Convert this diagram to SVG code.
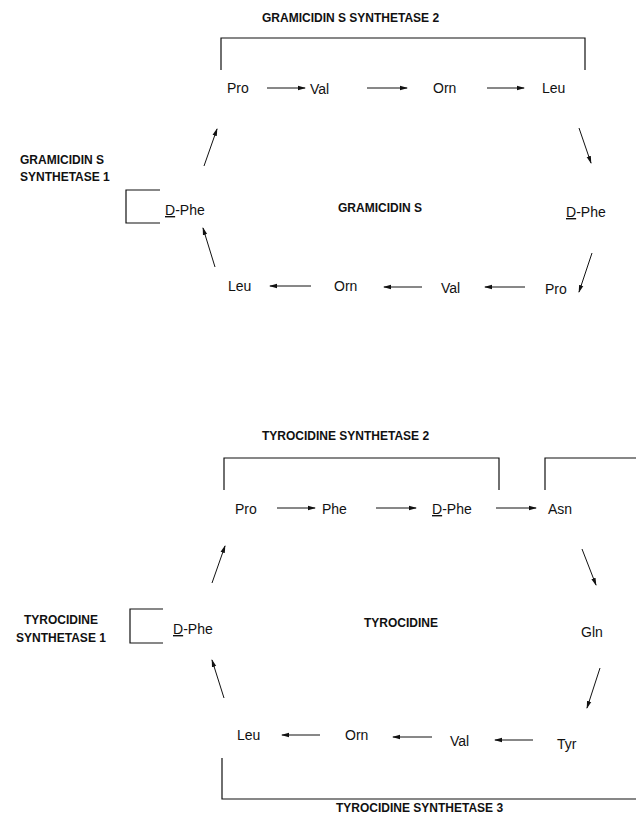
<svg xmlns="http://www.w3.org/2000/svg" width="636" height="816" viewBox="0 0 636 816">
<defs>
<marker id="ah" markerWidth="8" markerHeight="6" refX="7" refY="3" orient="auto" markerUnits="userSpaceOnUse">
<path d="M0,0.8 L8,3 L0,5.2 Z" fill="#111"/>
</marker>
</defs>
<style>
.t{font-family:"Liberation Sans",Arial,sans-serif;font-size:14px;fill:#111}
.b{font-family:"Liberation Sans",Arial,sans-serif;font-size:12px;font-weight:bold;fill:#111}
.c{stroke:#111;stroke-width:1;fill:none;marker-end:url(#ah)}
.br{stroke:#111;stroke-width:1.2;fill:none}
</style>
<rect width="636" height="816" fill="#fff"/>

<g id="gramicidin">
<text class="b" x="262" y="22">GRAMICIDIN S SYNTHETASE 2</text>
<path class="br" d="M221,70 V38 H585 V70"/>
<text class="b" x="20" y="164">GRAMICIDIN S</text>
<text class="b" x="20" y="181">SYNTHETASE 1</text>
<path class="br" d="M160,190 H126 V223 H160"/>
<text class="b" x="338" y="212">GRAMICIDIN S</text>
</g>
<g id="g-pro1"><text class="t" x="227" y="93">Pro</text></g>
<g id="g-val1"><text class="t" x="310" y="94">Val</text></g>
<g id="g-orn1"><text class="t" x="433" y="93">Orn</text></g>
<g id="g-leu1"><text class="t" x="542" y="93">Leu</text></g>
<g id="g-dphe2"><text class="t" x="566" y="217"><tspan text-decoration="underline">D</tspan>-Phe</text></g>
<g id="g-pro2"><text class="t" x="545" y="294">Pro</text></g>
<g id="g-val2"><text class="t" x="441" y="293">Val</text></g>
<g id="g-orn2"><text class="t" x="334" y="291">Orn</text></g>
<g id="g-leu2"><text class="t" x="228" y="291">Leu</text></g>
<g id="g-dphe1"><text class="t" x="165" y="215"><tspan text-decoration="underline">D</tspan>-Phe</text></g>

<g id="tyrocidine">
<text class="b" x="262" y="440">TYROCIDINE SYNTHETASE 2</text>
<path class="br" d="M224,490 V458 H499 V490"/>
<path class="br" d="M545,490 V458 H636"/>
<text class="b" x="61" y="624" text-anchor="middle">TYROCIDINE</text>
<text class="b" x="61" y="642" text-anchor="middle">SYNTHETASE 1</text>
<path class="br" d="M163,609 H130 V643 H163"/>
<text class="b" x="364" y="627">TYROCIDINE</text>
<path class="br" d="M222,758 V799 H636"/>
<text class="b" x="336" y="812">TYROCIDINE SYNTHETASE 3</text>
</g>
<g id="t-pro1"><text class="t" x="235" y="514">Pro</text></g>
<g id="t-phe1"><text class="t" x="322" y="514">Phe</text></g>
<g id="t-dphe1"><text class="t" x="432" y="514"><tspan text-decoration="underline">D</tspan>-Phe</text></g>
<g id="t-asn"><text class="t" x="548" y="514">Asn</text></g>
<g id="t-gln"><text class="t" x="581" y="637">Gln</text></g>
<g id="t-tyr"><text class="t" x="557" y="749">Tyr</text></g>
<g id="t-val"><text class="t" x="450" y="746">Val</text></g>
<g id="t-orn"><text class="t" x="345" y="740">Orn</text></g>
<g id="t-leu"><text class="t" x="237" y="740">Leu</text></g>
<g id="t-dphe0"><text class="t" x="173" y="634"><tspan text-decoration="underline">D</tspan>-Phe</text></g>

<g id="connectors">
<line class="c" x1="267" y1="88" x2="305" y2="88"/>
<line class="c" x1="367" y1="88" x2="407" y2="88"/>
<line class="c" x1="487" y1="88" x2="524" y2="88"/>
<line class="c" x1="579" y1="128" x2="591" y2="163"/>
<line class="c" x1="592" y1="253" x2="579" y2="292"/>
<line class="c" x1="525" y1="287" x2="485" y2="287"/>
<line class="c" x1="422" y1="287" x2="384" y2="287"/>
<line class="c" x1="311" y1="286" x2="270" y2="286"/>
<line class="c" x1="215" y1="267" x2="203" y2="228"/>
<line class="c" x1="204" y1="166" x2="217" y2="129"/>

<line class="c" x1="277" y1="508" x2="315" y2="508"/>
<line class="c" x1="376" y1="508" x2="416" y2="508"/>
<line class="c" x1="496" y1="508" x2="536" y2="508"/>
<line class="c" x1="582" y1="549" x2="596" y2="585"/>
<line class="c" x1="600" y1="668" x2="587" y2="708"/>
<line class="c" x1="533" y1="740" x2="495" y2="740"/>
<line class="c" x1="432" y1="737" x2="393" y2="737"/>
<line class="c" x1="320" y1="735" x2="282" y2="735"/>
<line class="c" x1="224" y1="698" x2="212" y2="660"/>
<line class="c" x1="212" y1="583" x2="225" y2="546"/>
</g>
</svg>
